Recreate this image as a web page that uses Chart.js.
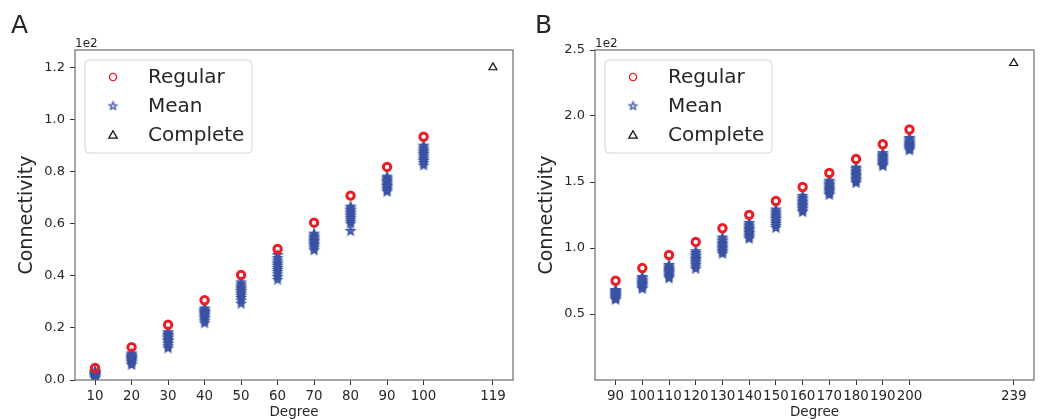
<!DOCTYPE html>
<html>
<head>
<meta charset="utf-8">
<title>Connectivity vs Degree</title>
<script src="https://cdn.jsdelivr.net/npm/chart.js@4.4.1/dist/chart.umd.min.js"></script>
<style>
    html, body { margin: 0; padding: 0; background: #fff; }
    #wrap { position: relative; width: 1041px; height: 419px; }
    .panel { position: absolute; top: 0; height: 419px; }
    #panelA { left: 0; width: 520px; }
    #panelB { left: 520px; width: 521px; }
</style>
</head>
<body>
<div id="wrap">
    <div class="panel" id="panelA"><canvas id="chartA"></canvas></div>
    <div class="panel" id="panelB"><canvas id="chartB"></canvas></div>
</div>
<script>
// ---- panel A data (values in plain units, axis shows them x1e2) ----
const degreesA = [10, 20, 30, 40, 50, 60, 70, 80, 90, 100];
const regularA = [4.6, 12.6, 21.2, 30.6, 40.3, 50.3, 60.4, 70.8, 81.8, 93.4];
const meanA = [
    [0.6, 1.0, 1.3, 1.6, 1.9, 2.1, 2.3, 2.5, 2.7, 2.9, 3.1, 3.4],
    [5.8, 6.4, 7.0, 7.4, 7.8, 8.1, 8.4, 8.7, 9.0, 9.3, 9.7, 10.2],
    [12.2, 13.0, 13.8, 14.4, 15.0, 15.5, 16.0, 16.4, 16.8, 17.3, 17.8, 18.4],
    [21.8, 22.6, 23.3, 23.9, 24.4, 24.9, 25.3, 25.7, 26.1, 26.5, 27.0, 27.5],
    [29.3, 30.5, 31.5, 32.3, 33.0, 33.6, 34.2, 34.8, 35.4, 36.0, 36.7, 37.5],
    [38.5, 39.6, 40.6, 41.5, 42.3, 43.0, 43.7, 44.4, 45.1, 45.9, 46.8, 48.0],
    [49.8, 50.6, 51.3, 51.9, 52.4, 52.9, 53.4, 53.9, 54.4, 54.9, 55.5, 56.2],
    [57.2, 60.0, 60.8, 61.6, 62.3, 62.9, 63.5, 64.1, 64.7, 65.3, 65.9, 66.6],
    [72.3, 72.9, 73.5, 74.0, 74.5, 75.0, 75.5, 76.0, 76.5, 77.0, 77.5, 78.1],
    [82.4, 83.3, 84.1, 84.8, 85.5, 86.2, 86.8, 87.4, 88.0, 88.6, 89.3, 90.0]
];
const completeA = {degree: 119, value: 120};
const xTicksA = [10, 20, 30, 40, 50, 60, 70, 80, 90, 100, 119];
const yTicksA = [0, 20, 40, 60, 80, 100, 120];

// ---- panel B data ----
const degreesB = [90, 100, 110, 120, 130, 140, 150, 160, 170, 180, 190, 200];
const regularB = [75.2, 84.8, 94.7, 104.6, 115.0, 125.1, 135.6, 146.2, 156.8, 167.4, 178.6, 189.8];
const meanB = [
    [60.8, 61.6, 62.4, 63.1, 63.7, 64.3, 64.9, 65.5, 66.1, 66.7, 67.4, 68.2],
    [69.0, 70.0, 70.9, 71.7, 72.5, 73.2, 73.9, 74.6, 75.4, 76.2, 77.1, 78.1],
    [77.0, 78.1, 79.1, 80.0, 80.9, 81.7, 82.5, 83.3, 84.2, 85.1, 86.1, 87.2],
    [84.2, 85.8, 87.2, 88.5, 89.7, 90.8, 91.8, 92.8, 93.9, 95.0, 96.2, 97.6],
    [95.6, 96.8, 97.9, 99.0, 100.0, 101.0, 102.0, 103.0, 104.1, 105.3, 106.6, 108.0],
    [107.0, 108.2, 109.3, 110.4, 111.4, 112.4, 113.4, 114.4, 115.5, 116.6, 117.8, 119.0],
    [115.2, 116.8, 118.2, 119.5, 120.7, 121.9, 123.0, 124.1, 125.3, 126.5, 127.8, 129.2],
    [127.2, 128.4, 129.6, 130.7, 131.8, 132.8, 133.8, 134.8, 135.9, 137.0, 138.2, 139.5],
    [140.2, 141.2, 142.2, 143.1, 144.0, 144.9, 145.8, 146.7, 147.7, 148.7, 149.8, 151.0],
    [149.2, 150.4, 151.5, 152.5, 153.5, 154.5, 155.5, 156.5, 157.5, 158.6, 159.8, 161.0],
    [162.0, 163.0, 163.9, 164.8, 165.6, 166.4, 167.2, 168.0, 168.9, 169.8, 170.8, 171.9],
    [174.0, 174.9, 175.8, 176.6, 177.4, 178.2, 179.0, 179.8, 180.6, 181.5, 182.4, 183.4]
];
const completeB = {degree: 239, value: 240};
const xTicksB = [90, 100, 110, 120, 130, 140, 150, 160, 170, 180, 190, 200, 239];
const yTicksB = [50, 100, 150, 200, 250];

const RED = '#ec1c24';
const BLUE = '#3a54a4';
const TEXT = '#262626';

Chart.defaults.font.family = '"DejaVu Sans", sans-serif';
Chart.defaults.color = TEXT;

// 5-point star, like matplotlib's '*' marker
function makeStar(outer, color, lineWidth, fill) {
    const size = Math.ceil(outer * 2 + lineWidth * 2 + 2);
    const c = document.createElement('canvas');
    c.width = size;
    c.height = size;
    const g = c.getContext('2d');
    const inner = outer * 0.42;
    g.beginPath();
    for (let i = 0; i < 10; i++) {
        const r = i % 2 === 0 ? outer : inner;
        const ang = -Math.PI / 2 + i * Math.PI / 5;
        const px = size / 2 + r * Math.cos(ang);
        const py = size / 2 + r * Math.sin(ang);
        if (i === 0) g.moveTo(px, py); else g.lineTo(px, py);
    }
    g.closePath();
    if (fill) {
        g.fillStyle = fill;
        g.fill();
    }
    g.strokeStyle = color;
    g.lineWidth = lineWidth;
    g.stroke();
    return c;
}

const starPlot = makeStar(4.4, BLUE, 1.4, 'rgba(58,84,164,0.85)');
const starLegend = makeStar(4.0, BLUE, 1.3, null);

// frame, "1e2" offset text, panel letter and the boxed legend
const panelDecor = {
    id: 'panelDecor',
    afterDraw(chart, args, opts) {
        const ctx = chart.ctx;
        const a = chart.chartArea;
        ctx.save();

        ctx.strokeStyle = '#6b6b6b';
        ctx.lineWidth = 1.2;
        ctx.strokeRect(a.left, a.top, a.right - a.left, a.bottom - a.top);

        ctx.fillStyle = TEXT;
        ctx.textAlign = 'left';
        ctx.textBaseline = 'alphabetic';
        ctx.font = '12px "DejaVu Sans"';
        ctx.fillText('1e2', a.left, a.top - 3);

        ctx.font = '25px "DejaVu Sans"';
        ctx.fillText(opts.letter, opts.letterX, 33);

        // legend box
        const bx = a.left + 10, by = a.top + 10, bw = 167, bh = 93, br = 4;
        ctx.beginPath();
        ctx.moveTo(bx + br, by);
        ctx.lineTo(bx + bw - br, by);
        ctx.arcTo(bx + bw, by, bx + bw, by + br, br);
        ctx.lineTo(bx + bw, by + bh - br);
        ctx.arcTo(bx + bw, by + bh, bx + bw - br, by + bh, br);
        ctx.lineTo(bx + br, by + bh);
        ctx.arcTo(bx, by + bh, bx, by + bh - br, br);
        ctx.lineTo(bx, by + br);
        ctx.arcTo(bx, by, bx + br, by, br);
        ctx.closePath();
        ctx.fillStyle = 'rgba(255,255,255,0.85)';
        ctx.fill();
        ctx.strokeStyle = '#d4d4d4';
        ctx.lineWidth = 1;
        ctx.stroke();

        const mx = bx + 28;
        const rows = [by + 17, by + 46, by + 75];

        ctx.beginPath();
        ctx.arc(mx, rows[0], 3.6, 0, Math.PI * 2);
        ctx.strokeStyle = RED;
        ctx.lineWidth = 1.4;
        ctx.stroke();

        ctx.drawImage(starLegend, mx - starLegend.width / 2, rows[1] - starLegend.height / 2);

        ctx.beginPath();
        ctx.moveTo(mx, rows[2] - 4.2);
        ctx.lineTo(mx + 4.2, rows[2] + 3.2);
        ctx.lineTo(mx - 4.2, rows[2] + 3.2);
        ctx.closePath();
        ctx.strokeStyle = '#111';
        ctx.lineWidth = 1.3;
        ctx.stroke();

        ctx.fillStyle = TEXT;
        ctx.font = '20px "DejaVu Sans"';
        ctx.textBaseline = 'middle';
        ['Regular', 'Mean', 'Complete'].forEach(function (label, i) {
            ctx.fillText(label, bx + 63, rows[i] + 1);
        });

        ctx.restore();
    }
};

function buildPanel(canvasId, p) {
    const regularPts = p.degrees.map((d, i) => ({x: d, y: p.regular[i]}));
    const meanPts = [];
    p.mean.forEach(function (vals, i) {
        vals.forEach(v => meanPts.push({x: p.degrees[i], y: v}));
    });
    const completePts = [{x: p.complete.degree, y: p.complete.value}];

    return new Chart(canvasId, {
        type: 'scatter',
        data: {
            datasets: [
                {
                    label: 'Regular',
                    data: regularPts,
                    pointStyle: 'circle',
                    pointRadius: 3.7,
                    pointBorderWidth: 3,
                    pointBorderColor: RED,
                    pointBackgroundColor: 'rgba(255,255,255,0)'
                },
                {
                    label: 'Mean',
                    data: meanPts,
                    pointStyle: starPlot,
                    pointRadius: 4
                },
                {
                    label: 'Complete',
                    data: completePts,
                    pointStyle: 'triangle',
                    pointRadius: 4.6,
                    pointBorderWidth: 1.2,
                    pointBorderColor: '#111',
                    pointBackgroundColor: 'rgba(255,255,255,0)'
                }
            ]
        },
        options: {
            responsive: true,
            maintainAspectRatio: false,
            animation: false,
            events: [],
            layout: {padding: {left: 0, top: 50, right: p.padRight, bottom: 0}},
            plugins: {
                legend: {display: false},
                tooltip: {enabled: false},
                panelDecor: {letter: p.letter, letterX: p.letterX}
            },
            scales: {
                x: {
                    type: 'linear',
                    min: p.xMin,
                    max: p.xMax,
                    afterBuildTicks: s => { s.ticks = p.xTicks.map(v => ({value: v})); },
                    afterFit: s => { s.height = 39; },
                    grid: {drawOnChartArea: false, drawTicks: true, tickLength: 5, color: '#333'},
                    border: {display: false},
                    ticks: {
                        autoSkip: false,
                        maxRotation: 0,
                        padding: 3,
                        color: TEXT,
                        font: {size: 13.4},
                        callback: v => String(v)
                    },
                    title: {
                        display: true,
                        text: 'Degree',
                        color: TEXT,
                        font: {size: 13.5, lineHeight: 1},
                        padding: {top: 0, bottom: 0}
                    }
                },
                y: {
                    type: 'linear',
                    min: p.yMin,
                    max: p.yMax,
                    afterBuildTicks: s => { s.ticks = p.yTicks.map(v => ({value: v})); },
                    afterFit: s => { s.width = 75; },
                    grid: {drawOnChartArea: false, drawTicks: true, tickLength: 5, color: '#333'},
                    border: {display: false},
                    ticks: {
                        padding: 5,
                        color: TEXT,
                        font: {size: 13},
                        callback: v => (v / 100).toFixed(1)
                    },
                    title: {
                        display: true,
                        text: 'Connectivity',
                        color: TEXT,
                        font: {size: 19, lineHeight: 1.2},
                        padding: {top: 16, bottom: 0}
                    }
                }
            }
        },
        plugins: [panelDecor]
    });
}

buildPanel('chartA', {
    degrees: degreesA, regular: regularA, mean: meanA, complete: completeA,
    xTicks: xTicksA, yTicks: yTicksA,
    xMin: 4.5, xMax: 124.5, yMin: 0, yMax: 126.7,
    padRight: 3, letter: 'A', letterX: 11
});

buildPanel('chartB', {
    degrees: degreesB, regular: regularB, mean: meanB, complete: completeB,
    xTicks: xTicksB, yTicks: yTicksB,
    xMin: 82.3, xMax: 246.6, yMin: 0, yMax: 250,
    padRight: 4, letter: 'B', letterX: 15
});
</script>
</body>
</html>
